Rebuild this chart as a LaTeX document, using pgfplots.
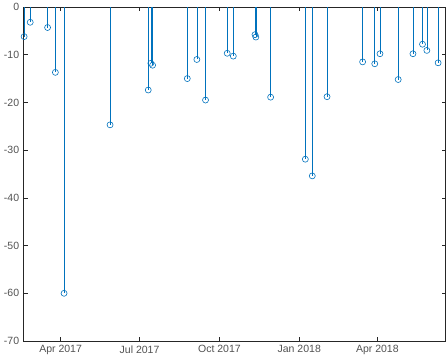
\documentclass[border=0pt]{standalone}
\usepackage{pgfplots}
\pgfplotsset{compat=1.18}
\usepackage{fontspec}
\setmainfont{Liberation Sans}
\definecolor{stemblue}{RGB}{0,114,189}
\definecolor{axgray}{gray}{0.15}

% days counted from 1 Jan 2017, value of each event
\pgfplotstableread{
day value
48 -6.2
55 -3.2
75 -4.3
84 -13.7
94 -60
147 -24.7
191 -17.4
194 -11.8
196 -12.2
236 -15.0
247 -11.0
257 -19.5
282 -9.7
289 -10.3
314 -5.8
315 -6.3
332 -18.9
372 -31.9
380 -35.4
397 -18.8
438 -11.5
452 -11.9
458 -9.8
479 -15.2
496 -9.8
507 -7.8
512 -9.1
525 -11.7
}\events

\begin{document}
\begin{tikzpicture}
\path[use as bounding box] (0,0) rectangle (448pt,360pt);
\begin{axis}[
  scale only axis,
  width=421.8pt, height=334pt,
  at={(23.7pt,19pt)}, anchor=south west,
  xmin=47.5, xmax=533.5,
  ymin=-70, ymax=0,
  xtick={90,181,273,365,455},
  xticklabels={Apr 2017,Jul 2017,Oct 2017,Jan 2018,Apr 2018},
  ytick={-70,-60,-50,-40,-30,-20,-10,0},
  yticklabels={-70,-60,-50,-40,-30,-20,-10,0},
  tick align=inside,
  major tick length=4pt,
  tick style={axgray, line width=0.6pt},
  axis line style={axgray, line width=0.6pt},
  ticklabel style={font=\fontsize{10.5}{12}\selectfont, text=axgray!80},
  xticklabel style={yshift=-1pt},
  yticklabel style={xshift=-1pt},
  clip=false,
]
\addplot+[ycomb, color=stemblue, line width=0.6pt,
  mark=o, mark size=3pt, mark options={stemblue, line width=0.6pt, fill=none}]
  table[x=day, y=value] {\events};
\end{axis}
\end{tikzpicture}
\end{document}
